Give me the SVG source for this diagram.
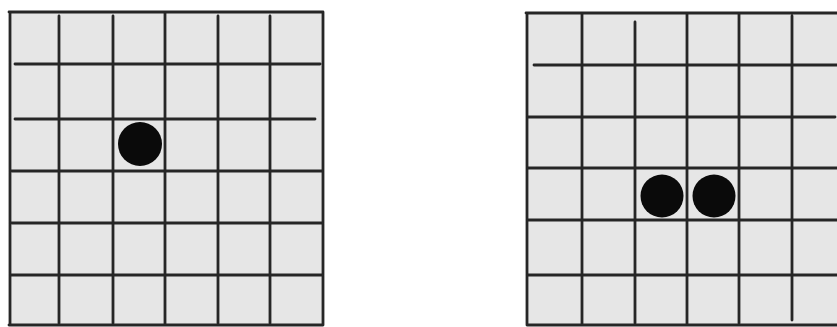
<svg xmlns="http://www.w3.org/2000/svg" width="837" height="327" viewBox="0 0 837 327">
<style>
.bg{fill:#e6e6e6;stroke:none}
.ln{stroke:#262626;stroke-width:2.8;fill:none;stroke-linecap:round}
.dot{fill:#0a0a0a}
</style>
<rect width="837" height="327" fill="#fff"/>
<g id="grid-left">
<rect class="bg" x="9" y="11" width="315" height="315"/>
<path class="ln" d="M10 12V325M59 16V323M113 16V323M165 13V325M218 16V323M270 16V323M323 12V325M9 12H323M15 64H320M15 119H315M12 171H322M12 223H323M12 275H323M9 325H323"/>
<circle class="dot" cx="140" cy="144" r="22"/>
</g>
<g id="grid-right">
<rect class="bg" x="526" y="12" width="311" height="314"/>
<path class="ln" d="M527 13V325M582 14V325M635 22V323M687 14V325M739 14V323M792 16V320M526 13H837M534 65H837M528 117H835M528 168H837M528 220H837M528 275H837M527 325H837"/>
<circle class="dot" cx="662" cy="196" r="21.5"/>
<circle class="dot" cx="714" cy="196" r="21.5"/>
</g>
</svg>
